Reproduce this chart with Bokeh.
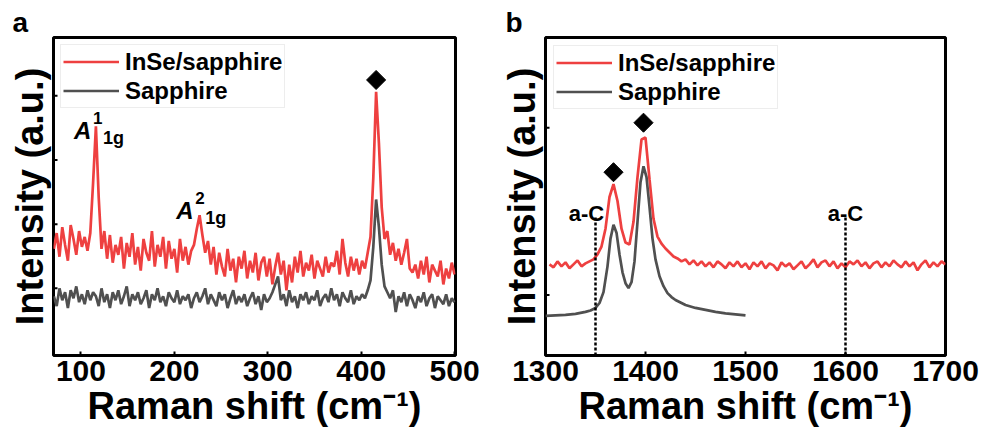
import numpy as np
from bokeh.plotting import figure
from bokeh.layouts import row
from bokeh.models import Range1d, FixedTicker
from bokeh.core.properties import value
from bokeh.embed import file_html
from bokeh.resources import INLINE

FONT = "Liberation Sans"
RED = "#EE4040"
GRAY = "#505050"

# ---------------- panel a data ----------------
shift_a = list(range(71, 501, 3))
inse_a = [
    108, 124, 100, 130, 112, 96, 132, 118, 102, 126,
    110, 120, 106, 124, 175, 232, 160, 108, 126, 98,
    122, 94, 112, 102, 120, 88, 114, 100, 124, 92,
    110, 86, 118, 104, 96, 126, 90, 112, 100, 120,
    88, 116, 98, 108, 84, 118, 96, 110, 92, 106,
    112, 128, 142, 122, 104, 116, 92, 110, 82, 104,
    90, 80, 108, 86, 98, 74, 100, 88, 106, 78,
    96, 84, 104, 76, 94, 100, 80, 98, 72, 90,
    104, 82, 96, 66, 92, 74, 100, 84, 106, 80,
    94, 86, 102, 78, 96, 88, 80, 100, 84, 94,
    90, 106, 82, 118, 94, 80, 100, 86, 98, 82,
    96, 88, 104, 120, 180, 267, 215, 150, 118, 126,
    102, 114, 96, 108, 92, 104, 118, 88, 84, 92,
    78, 96, 82, 100, 74, 92, 86, 80, 96, 72,
    88, 78, 94, 82,
]
sapph_a = [
    60, 50, 68, 56, 64, 48, 66, 58, 70, 54,
    62, 52, 66, 56, 64, 60, 50, 68, 54, 62,
    48, 64, 56, 66, 52, 60, 70, 50, 62, 56,
    64, 52, 58, 66, 48, 62, 56, 68, 54, 60,
    50, 64, 58, 54, 66, 52, 60, 56, 62, 48,
    58, 64, 54, 60, 68, 52, 62, 56, 50, 64,
    56, 62, 48, 58, 66, 52, 60, 54, 62, 50,
    58, 64, 52, 60, 46, 62, 54, 58, 64, 72,
    80, 56, 62, 50, 66, 54, 60, 48, 62, 56,
    64, 52, 60, 56, 66, 50, 58, 62, 54, 68,
    56, 62, 50, 64, 58, 54, 66, 52, 60, 56,
    62, 58, 66, 76, 110, 158, 130, 92, 70, 64,
    58, 66, 44, 60, 54, 64, 50, 62, 56, 48,
    60, 54, 64, 50, 58, 62, 48, 60, 56, 52,
    62, 50, 58, 54,
]
xticks_a = [100, 200, 300, 400, 500]
yticks_a = [68, 133, 198, 263]
mode_x = [92.5, 202]
mode_y = [228, 147]
mode_sup = ["1", "2"]
mode_sub = ["1g", "1g"]
diamond_a_x = [416]
diamond_a_y = [279]

# ---------------- panel b data ----------------
shift_b = list(range(1304, 1701, 4))
inse_b = [
    92, 89, 95, 90, 94, 88, 92, 96, 90, 93,
    95, 97, 102, 110, 128, 160, 173, 156, 128, 114,
    112, 135, 180, 218, 220, 178, 138, 120, 113, 108,
    104, 100, 98, 95, 97, 92, 96, 91, 95, 90,
    94, 89, 95, 92, 88, 94, 90, 95, 89, 93,
    87, 94, 90, 95, 88, 93, 91, 86, 94, 90,
    93, 87, 91, 95, 88, 92, 97, 89, 94, 96,
    90, 95, 88, 93, 89, 95, 92, 96, 90, 94,
    88, 93, 95, 89, 94, 90, 96, 92, 89, 95,
    90, 94, 86, 92, 96, 89, 94, 90, 95, 92,
]
shift_b_sapph = [1300, 1310, 1320, 1330, 1340, 1345, 1350, 1354, 1358, 1362,
                 1365, 1368, 1371, 1374, 1377, 1380, 1383, 1386, 1389, 1392,
                 1395, 1398, 1401, 1404, 1407, 1410, 1414, 1418, 1422, 1426,
                 1430, 1440, 1450, 1460, 1470, 1480, 1490, 1500]
sapph_b = [40, 40.5, 41, 42, 44, 45.5, 48, 53, 64, 90,
           118, 132, 124, 102, 84, 73, 68, 74, 95, 135,
           175, 191, 180, 150, 118, 97, 80, 70, 63, 59,
           56, 51, 48, 46, 44, 42.5, 41.5, 40.5]
xticks_b = [1300, 1400, 1500, 1600, 1700]
yticks_b = [61, 230]
diamond_b_x = [1368, 1398]
diamond_b_y = [185, 235]
ac_x = [1350, 1600]
ac_top = [141, 141]
ac_label_x = [1341, 1600]
ac_label_y = [143, 143]


def style(p, xticks, yticks):
    p.outline_line_color = "black"
    p.outline_line_width = 3
    p.outline_line_alpha = 1
    p.xgrid.visible = False
    p.ygrid.visible = False
    p.background_fill_color = "white"
    p.border_fill_color = "white"
    for ax in (p.xaxis[0], p.yaxis[0]):
        ax.axis_line_color = None
        ax.major_tick_in = 4
        ax.major_tick_out = 0
        ax.major_tick_line_width = 2
        ax.major_tick_line_color = "black"
        ax.minor_tick_line_color = None
        ax.axis_label_text_font = FONT
        ax.axis_label_text_font_style = "bold"
        ax.axis_label_text_font_size = "38px"
        ax.axis_label_text_color = "black"
        ax.major_label_text_font = FONT
        ax.major_label_text_font_style = "bold"
        ax.major_label_text_font_size = "30px"
        ax.major_label_text_color = "black"
    p.xaxis[0].ticker = FixedTicker(ticks=xticks)
    # y axis carries only its title; unlabeled inner ticks are drawn as dashes
    p.yaxis[0].ticker = FixedTicker(ticks=[])
    p.yaxis[0].major_label_standoff = 0
    p.yaxis[0].axis_label_standoff = 3
    p.xaxis[0].major_label_standoff = 5
    p.xaxis[0].axis_label_standoff = 1
    p.scatter([p.x_range.start] * len(yticks), yticks, marker="dash", size=8,
              line_width=2, line_color="black")


def style_legend(p, margin):
    lg = p.legend[0]
    lg.location = "top_left"
    lg.margin = margin
    lg.padding = 2
    lg.spacing = 0
    lg.glyph_width = 56
    lg.glyph_height = 29
    lg.label_height = 29
    lg.label_standoff = 6
    lg.label_text_font = FONT
    lg.label_text_font_style = "bold"
    lg.label_text_font_size = "24px"
    lg.label_text_color = "black"
    lg.border_line_color = "#dcdcdc"
    lg.border_line_width = 1
    lg.background_fill_alpha = 1


def panel_title(p, letter, offset):
    p.title.text = letter
    p.title.align = "left"
    p.title.offset = offset
    p.title.standoff = 0
    p.title.text_font = FONT
    p.title.text_font_style = "bold"
    p.title.text_font_size = "28px"
    p.title.text_color = "black"


XLABEL = "Raman shift (cm\u207b\u00b9)"
YLABEL = "Intensity (a.u.)"

# ---------------- panel a ----------------
pa = figure(width=493, height=429, x_range=Range1d(70.6, 501), y_range=Range1d(0, 322),
            output_backend="svg", toolbar_location=None,
            min_border_left=53, min_border_right=38, min_border_top=37, min_border_bottom=70,
            x_axis_label=XLABEL, y_axis_label=YLABEL)
style(pa, xticks_a, yticks_a)
panel_title(pa, "a", -41)
pa.line(shift_a, inse_a, color=RED, line_width=2.7, legend_label="InSe/sapphire")
pa.line(shift_a, sapph_a, color=GRAY, line_width=2.7, legend_label="Sapphire")
pa.scatter(diamond_a_x, diamond_a_y, marker="square", size=13.5, angle=np.pi / 4, color="black")
pa.text(x=mode_x, y=mode_y, text=["A", "A"], text_font=value(FONT), text_font_style="bold italic",
        text_font_size="24px", text_align="left", text_baseline="alphabetic", color="black")
pa.text(x=mode_x, y=mode_y, text=mode_sup, text_font=value(FONT), text_font_style="bold",
        text_font_size="17px", text_align="left", text_baseline="alphabetic", color="black",
        x_offset=19, y_offset=-12)
pa.text(x=mode_x, y=mode_y, text=mode_sub, text_font=value(FONT), text_font_style="bold",
        text_font_size="18px", text_align="left", text_baseline="alphabetic", color="black",
        x_offset=29, y_offset=8)
style_legend(pa, 7)

# ---------------- panel b ----------------
pb = figure(width=494, height=429, x_range=Range1d(1300, 1700), y_range=Range1d(0, 321),
            output_backend="svg", toolbar_location=None,
            min_border_left=52, min_border_right=42, min_border_top=37, min_border_bottom=70,
            x_axis_label=XLABEL, y_axis_label=YLABEL)
style(pb, xticks_b, yticks_b)
panel_title(pb, "b", -40)
pb.line(shift_b, inse_b, color=RED, line_width=2.7, legend_label="InSe/sapphire")
pb.line(shift_b_sapph, sapph_b, color=GRAY, line_width=2.7, legend_label="Sapphire")
pb.segment(x0=ac_x, y0=[pb.y_range.start] * len(ac_x), x1=ac_x, y1=ac_top,
           line_dash="3 2", line_width=2.5, color="black")
pb.text(x=ac_label_x, y=ac_label_y, text=["a-C", "a-C"], text_font=value(FONT),
        text_font_style="bold", text_font_size="22px", text_align="center",
        text_baseline="alphabetic", color="black")
pb.scatter(diamond_b_x, diamond_b_y, marker="square", size=13.5, angle=np.pi / 4, color="black")
style_legend(pb, 8)

layout = row(pa, pb)
open("out.html", "w").write(file_html(layout, INLINE))
